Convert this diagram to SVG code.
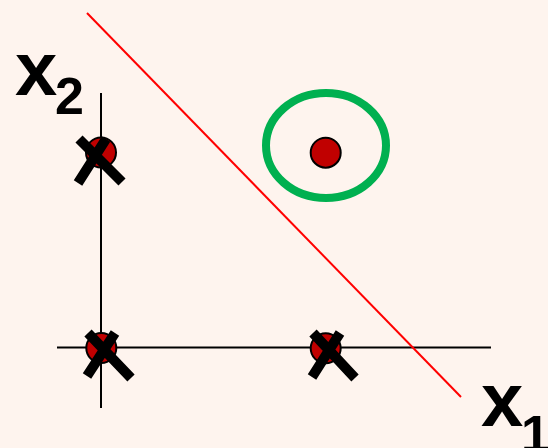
<svg xmlns="http://www.w3.org/2000/svg" width="548" height="448" viewBox="0 0 548 448">
<style>
.axis{stroke:#000;stroke-width:2;fill:none}
.sep{stroke:#FF0000;stroke-width:2;fill:none}
.dot{fill:#C00000;stroke:#000;stroke-width:2}
.cross{stroke:#000;stroke-width:10;stroke-linecap:butt;fill:none}
.lbl{font-family:"Liberation Sans",Arial,sans-serif;font-weight:bold;fill:#000}
</style>
<rect width="548" height="448" fill="#FEF4EE"/>
<g id="connectors">
<line class="axis" x1="101" y1="93" x2="101" y2="408"/>
<line class="axis" x1="57" y1="347.5" x2="491" y2="347.5"/>
<line class="sep" x1="87" y1="13" x2="461" y2="397"/>
</g>
<g id="label-x2">
<text class="lbl" x="15" y="95" font-size="76">x</text>
<text class="lbl" x="55" y="114" font-size="52">2</text>
</g>
<g id="label-x1">
<text class="lbl" x="481" y="426" font-size="76">x</text>
<text class="lbl" x="521" y="452" font-size="52">1</text>
</g>
<g id="point-01">
<circle class="dot" cx="101" cy="152.5" r="15"/>
<path class="cross" d="M79 139 L122 182 M106 139 L78 183"/>
</g>
<g id="point-00">
<circle class="dot" cx="101.3" cy="348" r="15"/>
<path class="cross" d="M88 333 L131 378 M115 333 L87 376"/>
</g>
<g id="point-10">
<circle class="dot" cx="325.7" cy="348.3" r="15"/>
<path class="cross" d="M313 333 L355 378 M340 333 L312 377"/>
</g>
<g id="point-11">
<ellipse cx="326" cy="145.5" rx="60" ry="52.5" fill="none" stroke="#00B050" stroke-width="8"/>
<circle class="dot" cx="325.7" cy="152.7" r="15"/>
</g>
</svg>
